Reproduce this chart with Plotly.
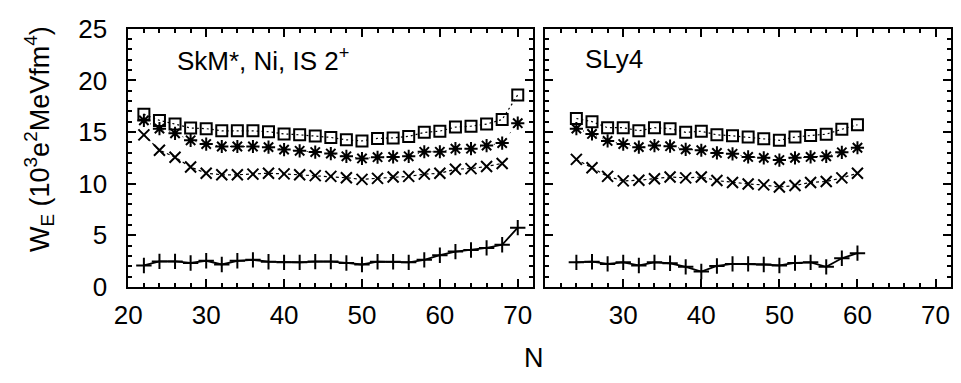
import plotly.graph_objects as go

# Left panel: SkM*
N_skm = [22, 24, 26, 28, 30, 32, 34, 36, 38, 40, 42, 44, 46, 48, 50, 52, 54, 56, 58, 60, 62, 64, 66, 68, 70]
skm_plus = [2.08, 2.47, 2.47, 2.32, 2.53, 2.17, 2.53, 2.62, 2.44, 2.38, 2.38, 2.45, 2.45, 2.32, 2.17,
            2.44, 2.44, 2.38, 2.62, 3.07, 3.42, 3.57, 3.78, 4.08, 5.74]
N_skm_x = N_skm[:-1]
skm_cross = [14.73, 13.24, 12.56, 11.61, 11.01, 10.86, 10.86, 10.92, 11.01, 10.95, 10.86, 10.78, 10.71,
             10.57, 10.42, 10.51, 10.65, 10.71, 10.92, 11.01, 11.4, 11.46, 11.67, 11.96]
skm_star = [16.13, 15.33, 14.88, 14.2, 13.84, 13.6, 13.6, 13.6, 13.54, 13.3, 13.18, 13.06, 12.92,
            12.65, 12.44, 12.56, 12.59, 12.65, 13.09, 13.09, 13.39, 13.39, 13.69, 13.93, 15.86]
skm_box = [16.72, 16.13, 15.77, 15.39, 15.33, 15.12, 15.12, 15.12, 15.03, 14.82, 14.73, 14.61, 14.48,
           14.25, 14.14, 14.38, 14.43, 14.58, 14.97, 15.09, 15.48, 15.57, 15.77, 16.22, 18.6]

# Right panel: SLy4
N_sly = [24, 26, 28, 30, 32, 34, 36, 38, 40, 42, 44, 46, 48, 50, 52, 54, 56, 58, 60]
sly_plus = [2.38, 2.44, 2.23, 2.38, 2.08, 2.38, 2.29, 1.94, 1.49, 2.03, 2.23, 2.23, 2.17, 2.08,
            2.32, 2.38, 1.94, 2.77, 3.27]
sly_cross = [12.35, 11.54, 10.71, 10.27, 10.33, 10.48, 10.65, 10.56, 10.64, 10.3, 10.12, 9.97, 9.88,
             9.67, 9.82, 10.12, 10.21, 10.56, 11.01]
sly_star = [15.33, 14.82, 14.14, 13.84, 13.54, 13.69, 13.63, 13.33, 13.24, 12.98, 12.89, 12.59, 12.5,
            12.29, 12.5, 12.59, 12.65, 13.04, 13.48]
sly_box = [16.31, 16.01, 15.42, 15.42, 15.12, 15.42, 15.33, 14.97, 15.08, 14.73, 14.64, 14.52, 14.34,
           14.2, 14.52, 14.67, 14.79, 15.27, 15.71]

x_ticks = [20, 30, 40, 50, 60, 70]
y_ticks = [0, 5, 10, 15, 20, 25]

FONT = "Liberation Sans, Arial, sans-serif"
BLACK = "#000000"

fig = go.Figure()

def add_series(x, y, xa, ya, symbol, dash, width, size):
    fig.add_trace(go.Scatter(
        x=x, y=y, xaxis=xa, yaxis=ya, mode="lines+markers",
        line=dict(color=BLACK, width=width, dash=dash),
        marker=dict(symbol=symbol, size=size, color=BLACK,
                    line=dict(color=BLACK, width=2)),
        showlegend=False))

for xa, ya, N, p, c, s, b, Nx in [("x", "y", N_skm, skm_plus, skm_cross, skm_star, skm_box, N_skm_x),
                                    ("x2", "y2", N_sly, sly_plus, sly_cross, sly_star, sly_box, N_sly)]:
    add_series(N, p, xa, ya, "cross-thin", "solid", 1.8, 11)
    add_series(Nx, c, xa, ya, "x-thin", "3px,3px", 1.2, 11)
    add_series(N, s, xa, ya, "asterisk-open", "1px,6px", 1.0, 11)
    add_series(N, b, xa, ya, "square-open", "2px,3px", 1.2, 11)

common_x = dict(range=[20, 72], showline=True, linecolor=BLACK, linewidth=2, mirror="allticks",
                ticks="inside", ticklen=8, tickwidth=1.5, tickcolor=BLACK,
                minor=dict(dtick=2, ticks="inside", ticklen=4, tickwidth=1.5, tickcolor=BLACK),
                showgrid=False, zeroline=False, ticklabelstandoff=4,
                tickfont=dict(family=FONT, size=26, color=BLACK))
common_y = dict(range=[0, 25], showline=True, linecolor=BLACK, linewidth=2, mirror="allticks",
                ticks="inside", ticklen=8, tickwidth=1.5, tickcolor=BLACK,
                minor=dict(dtick=1, ticks="inside", ticklen=4, tickwidth=1.5, tickcolor=BLACK),
                showgrid=False, zeroline=False, ticklabelstandoff=14,
                tickfont=dict(family=FONT, size=26, color=BLACK))

ydom = [1 - 295 / 383, 1 - 15 / 383]
fig.update_layout(
    width=961, height=383,
    margin=dict(l=0, r=0, t=0, b=0),
    paper_bgcolor="white", plot_bgcolor="white",
    xaxis=dict(domain=[116 / 961, 527 / 961], anchor="y",
               tickvals=x_ticks, ticktext=[str(v) for v in x_ticks], **common_x),
    yaxis=dict(domain=ydom, anchor="x",
               tickvals=y_ticks, ticktext=[str(v) for v in y_ticks], **common_y),
    xaxis2=dict(domain=[539 / 961, 951 / 961], anchor="y2",
                tickvals=x_ticks, ticktext=[""] + [str(v) for v in x_ticks[1:]], **common_x),
    yaxis2=dict(domain=ydom, anchor="x2",
                tickvals=y_ticks, ticktext=["" for v in y_ticks], **common_y),
    annotations=[
        dict(text="SkM*, Ni, IS 2<sup>+</sup>", xref="paper", yref="paper",
             x=163 / 961, y=1 - 48 / 383, xanchor="left", yanchor="middle", showarrow=False,
             font=dict(family=FONT, size=26, color=BLACK)),
        dict(text="SLy4", xref="paper", yref="paper",
             x=577 / 961, y=1 - 48 / 383, xanchor="left", yanchor="middle", showarrow=False,
             font=dict(family=FONT, size=26, color=BLACK)),
        dict(text="W<sub>E</sub> (10<sup>3</sup>e<sup>2</sup>MeVfm<sup>4</sup>)", xref="paper", yref="paper",
             x=26 / 961, y=1 - 135 / 383, xanchor="center", yanchor="middle", showarrow=False,
             textangle=-90, font=dict(family=FONT, size=27, color=BLACK)),
        dict(text="N", xref="paper", yref="paper",
             x=528 / 961, y=1 - 372 / 383, xanchor="center", yanchor="middle", showarrow=False,
             font=dict(family=FONT, size=27, color=BLACK)),
    ],
)

fig.write_html("out.html")
